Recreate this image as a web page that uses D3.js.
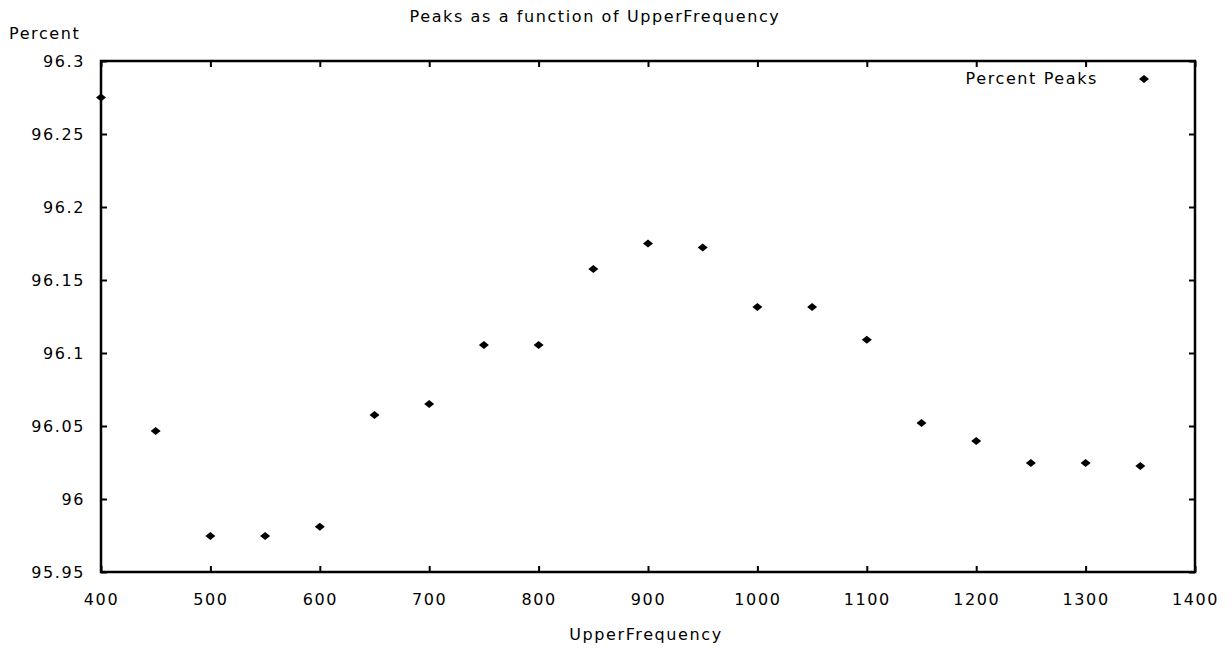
<!DOCTYPE html>
<html>
<head>
<meta charset="utf-8">
<script src="https://cdn.jsdelivr.net/npm/d3@7"></script>
<style>
  body { margin: 0; background: white; }
  text { font-family: "DejaVu Sans", sans-serif; font-size: 16px; letter-spacing: 1.6px; fill: black; }
</style>
</head>
<body>
<div id="chart"></div>
<script>
  // DATA
  var freqs = [400, 450, 500, 550, 600, 650, 700, 750, 800, 850, 900, 950, 1000, 1050, 1100, 1150, 1200, 1250, 1300, 1350];
  var peaks = [96.275, 96.0466, 95.9747, 95.9747, 95.981, 96.0575, 96.065, 96.1055, 96.1055, 96.1575,
               96.175, 96.1723, 96.1315, 96.1315, 96.109, 96.052, 96.0397, 96.0247, 96.0247, 96.0226];
  var xTicks = [400, 500, 600, 700, 800, 900, 1000, 1100, 1200, 1300, 1400];
  var yTicks = [95.95, 96, 96.05, 96.1, 96.15, 96.2, 96.25, 96.3];

  var width = 1232, height = 650;
  var plotLeft = 101, plotRight = 1195, plotTop = 61, plotBottom = 572;

  var svg = d3.select("#chart").append("svg")
              .attr("width", width)
              .attr("height", height);

  var x = d3.scaleLinear().domain([400, 1400]).range([plotLeft, plotRight]);
  var y = d3.scaleLinear().domain([95.95, 96.3]).range([plotBottom, plotTop]);

  // AXES (ticks inward, mirrored on all four sides)
  var tick = 6;
  svg.append("g").attr("transform", "translate(0," + plotBottom + ")")
     .call(d3.axisBottom(x).tickValues(xTicks).tickSize(-tick).tickPadding(tick + 16).tickFormat(d3.format("d")));
  svg.append("g").attr("transform", "translate(0," + plotTop + ")")
     .call(d3.axisTop(x).tickValues(xTicks).tickSize(-tick).tickFormat(""));
  svg.append("g").attr("transform", "translate(" + plotLeft + ",0)")
     .call(d3.axisLeft(y).tickValues(yTicks).tickSize(-tick).tickPadding(tick + 10).tickFormat(function(d) { return String(+d.toFixed(2)); }));
  svg.append("g").attr("transform", "translate(" + plotRight + ",0)")
     .call(d3.axisRight(y).tickValues(yTicks).tickSize(-tick).tickFormat(""));

  svg.selectAll(".domain").remove();
  svg.selectAll(".tick line").attr("stroke", "black").attr("stroke-width", 2);
  svg.selectAll(".tick text").attr("font-size", 17).attr("font-family", "DejaVu Sans").style("fill", "black");

  // FRAME
  svg.append("rect").attr("x", plotLeft).attr("y", plotTop)
     .attr("width", plotRight - plotLeft).attr("height", plotBottom - plotTop)
     .attr("fill", "none").attr("stroke", "black").attr("stroke-width", 2.5);

  // LABELS
  svg.append("text").attr("x", 595).attr("y", 22).style("text-anchor", "middle").text("Peaks as a function of UpperFrequency");
  svg.append("text").attr("x", 9).attr("y", 39).text("Percent");
  svg.append("text").attr("x", 646).attr("y", 640).style("text-anchor", "middle").text("UpperFrequency");

  // POINTS
  var diamond = "M0,-4L5,0L0,4L-5,0Z";
  svg.append("g").selectAll("path")
     .data(freqs)
     .enter().append("path")
     .attr("d", diamond)
     .attr("transform", function(d, i) { return "translate(" + x(d) + "," + y(peaks[i]) + ")"; })
     .attr("fill", "black");

  // LEGEND
  svg.append("text").attr("x", 1098).attr("y", 84).style("text-anchor", "end").text("Percent Peaks");
  svg.append("path").attr("d", diamond).attr("transform", "translate(1144,79)").attr("fill", "black");
</script>
</body>
</html>
